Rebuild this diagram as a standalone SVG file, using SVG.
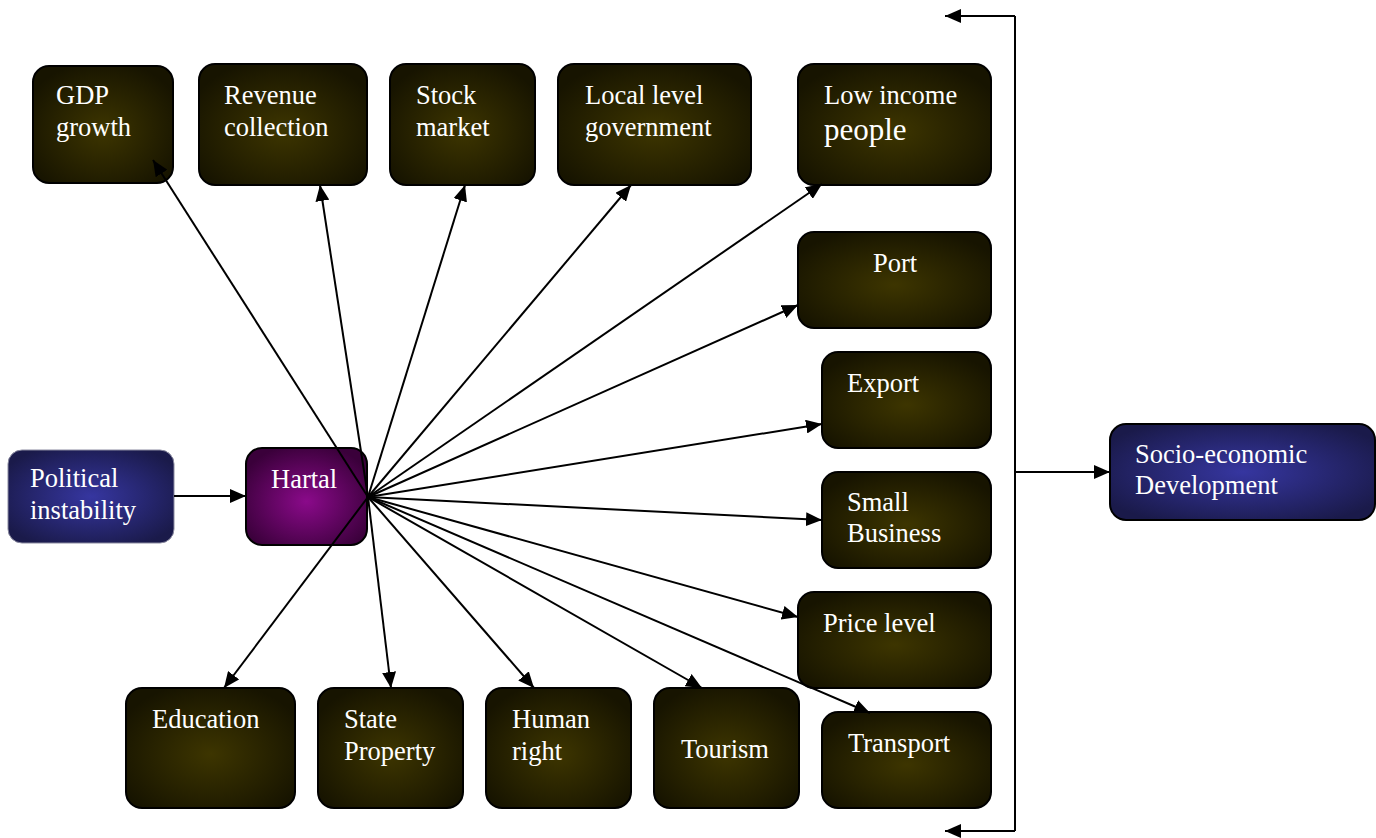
<svg xmlns="http://www.w3.org/2000/svg" width="1376" height="838" viewBox="0 0 1376 838">
<style>
.n{stroke:#000;stroke-width:2}
.o{fill:url(#gO)}
.b{fill:url(#gB)}
.p{fill:url(#gP)}
.t{font-family:"Liberation Serif",Tinos,"DejaVu Serif","Noto Serif",FreeSerif,"Times New Roman",Times,serif;font-size:26.5px;fill:#fff}
.c line,.c path{stroke:#000;stroke-width:2;fill:none}
</style>
<defs>
<radialGradient id="gO" cx="0.5" cy="0.55" r="0.6">
<stop offset="0" stop-color="#3d3500"/>
<stop offset="1" stop-color="#171400"/>
</radialGradient>
<radialGradient id="gB" cx="0.5" cy="0.5" r="0.6">
<stop offset="0" stop-color="#3636a0"/>
<stop offset="1" stop-color="#1a1a4a"/>
</radialGradient>
<radialGradient id="gP" cx="0.5" cy="0.55" r="0.6">
<stop offset="0" stop-color="#8a0a8a"/>
<stop offset="1" stop-color="#3a003a"/>
</radialGradient>
<marker id="ah" viewBox="0 0 16 14" refX="16" refY="7" markerWidth="16" markerHeight="14" markerUnits="userSpaceOnUse" orient="auto">
<path d="M0,0 L16,7 L0,14 Z" fill="#000"/>
</marker>
</defs>
<rect width="1376" height="838" fill="#fff"/>

<g id="gdp"><rect class="n o" x="33" y="66" width="140" height="117" rx="16"/><text class="t" x="56" y="104">GDP</text><text class="t" x="56" y="136">growth</text></g>
<g id="revenue"><rect class="n o" x="199" y="64" width="168" height="121" rx="16"/><text class="t" x="224" y="104">Revenue</text><text class="t" x="224" y="136">collection</text></g>
<g id="stock"><rect class="n o" x="390" y="64" width="145" height="121" rx="16"/><text class="t" x="416" y="104">Stock</text><text class="t" x="416" y="136">market</text></g>
<g id="local"><rect class="n o" x="558" y="64" width="193" height="121" rx="16"/><text class="t" x="585" y="104">Local level</text><text class="t" x="585" y="136">government</text></g>
<g id="lowincome"><rect class="n o" x="798" y="64" width="193" height="121" rx="16"/><text class="t" x="824" y="104">Low income</text><text class="t" x="824" y="140" style="font-size:31px">people</text></g>
<g id="port"><rect class="n o" x="798" y="232" width="193" height="96" rx="16"/><text class="t" x="895" y="272" text-anchor="middle">Port</text></g>
<g id="export"><rect class="n o" x="822" y="352" width="169" height="96" rx="16"/><text class="t" x="847" y="392">Export</text></g>
<g id="smallbusiness"><rect class="n o" x="822" y="472" width="169" height="96" rx="16"/><text class="t" x="847" y="511">Small</text><text class="t" x="847" y="542">Business</text></g>
<g id="pricelevel"><rect class="n o" x="798" y="592" width="193" height="96" rx="16"/><text class="t" x="823" y="632">Price level</text></g>
<g id="transport"><rect class="n o" x="822" y="712" width="169" height="96" rx="16"/><text class="t" x="848" y="752">Transport</text></g>
<g id="education"><rect class="n o" x="126" y="688" width="169" height="120" rx="16"/><text class="t" x="152" y="728">Education</text></g>
<g id="stateproperty"><rect class="n o" x="318" y="688" width="145" height="120" rx="16"/><text class="t" x="344" y="728">State</text><text class="t" x="344" y="760">Property</text></g>
<g id="humanright"><rect class="n o" x="486" y="688" width="145" height="120" rx="16"/><text class="t" x="512" y="728">Human</text><text class="t" x="512" y="760">right</text></g>
<g id="tourism"><rect class="n o" x="654" y="688" width="145" height="120" rx="16"/><text class="t" x="681" y="758">Tourism</text></g>
<g id="political"><rect class="b" x="8" y="450" width="166" height="93" rx="14" stroke="#8a8aa0" stroke-width="1"/><text class="t" x="30" y="487">Political</text><text class="t" x="30" y="519">instability</text></g>
<g id="hartal"><rect class="n p" x="246" y="448" width="121" height="97" rx="16"/><text class="t" x="271" y="488">Hartal</text></g>
<g id="socio"><rect class="n b" x="1110" y="424" width="265" height="96" rx="16"/><text class="t" x="1135" y="463">Socio-economic</text><text class="t" x="1135" y="494">Development</text></g>

<g class="c" id="connectors">
<line x1="174" y1="496" x2="246" y2="496" marker-end="url(#ah)"/>
<line x1="368" y1="497" x2="153" y2="160" marker-end="url(#ah)"/>
<line x1="368" y1="497" x2="320" y2="185" marker-end="url(#ah)"/>
<line x1="368" y1="497" x2="465" y2="185" marker-end="url(#ah)"/>
<line x1="368" y1="497" x2="631" y2="185" marker-end="url(#ah)"/>
<line x1="368" y1="497" x2="822" y2="184" marker-end="url(#ah)"/>
<line x1="368" y1="497" x2="798" y2="305" marker-end="url(#ah)"/>
<line x1="368" y1="497" x2="822" y2="424" marker-end="url(#ah)"/>
<line x1="368" y1="497" x2="822" y2="520" marker-end="url(#ah)"/>
<line x1="368" y1="497" x2="798" y2="617" marker-end="url(#ah)"/>
<line x1="368" y1="497" x2="870" y2="713" marker-end="url(#ah)"/>
<line x1="368" y1="497" x2="702" y2="688" marker-end="url(#ah)"/>
<line x1="368" y1="497" x2="534" y2="688" marker-end="url(#ah)"/>
<line x1="368" y1="497" x2="391" y2="688" marker-end="url(#ah)"/>
<line x1="368" y1="497" x2="224" y2="688" marker-end="url(#ah)"/>
<path d="M1015,16 L945,16" marker-end="url(#ah)"/>
<path d="M1015,16 L1015,831"/>
<path d="M1015,831 L945,831" marker-end="url(#ah)"/>
<line x1="1015" y1="472" x2="1110" y2="472" marker-end="url(#ah)"/>
</g>
</svg>
